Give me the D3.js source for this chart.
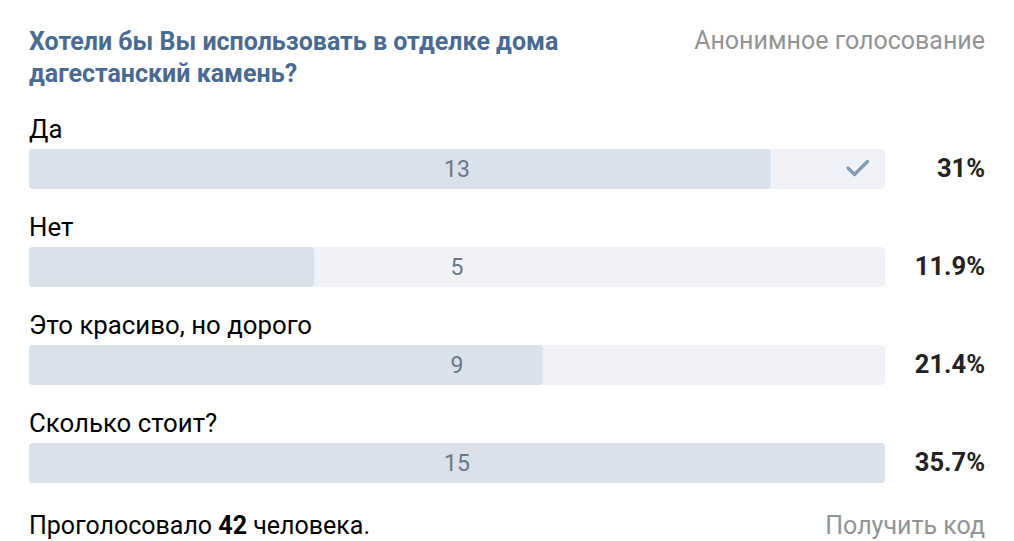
<!DOCTYPE html>
<html><head><meta charset="utf-8">
<script src="https://cdn.jsdelivr.net/npm/d3@7"></script>
<style>
html,body{margin:0;padding:0;background:#fff;overflow:hidden;}
svg{display:block;font-family:Roboto,"Open Sans",sans-serif;}
</style></head>
<body>
<svg id="chart" width="1014" height="541"></svg>
<script>
const titleLines = ["Хотели бы Вы использовать в отделке дома", "дагестанский камень?"];
const categories = ["Да", "Нет", "Это красиво, но дорого", "Сколько стоит?"];
const votes = [13, 5, 9, 15];
const percents = ["31%", "11.9%", "21.4%", "35.7%"];
const total = 42;
const votedIndex = 0;

const svg = d3.select("#chart");
const left = 29, trackRight = 885, right = 985;

const x = d3.scaleLinear().domain([0, d3.max(votes)]).range([0, trackRight - left]);
const y = d3.scaleBand().domain(categories).range([120, 512]).paddingInner(0).paddingOuter(0);

// title
svg.append("text").attr("x", left).attr("y", 50)
  .attr("font-size", 25).attr("font-weight", 700).attr("fill", "#4a6a91")
  .selectAll("tspan").data(titleLines).join("tspan")
  .attr("x", left).attr("dy", (d, i) => i ? 32 : 0).text(d => d);

svg.append("text").attr("x", right).attr("y", 49).attr("text-anchor", "end")
  .attr("font-size", 25).attr("fill", "#939393").text("Анонимное голосование");

const g = svg.selectAll("g.opt").data(categories).join("g")
  .attr("class", "opt").attr("transform", d => `translate(0,${y(d)})`);

g.append("text").attr("x", left).attr("y", 18)
  .attr("font-size", 25.8).attr("fill", "#000").text(d => d);

g.append("rect").attr("x", left).attr("y", 29).attr("height", 40)
  .attr("width", x.range()[1]).attr("rx", 4).attr("fill", "#f0f2f7");

g.append("rect").attr("x", left).attr("y", 29).attr("height", 40)
  .attr("width", (d, i) => x(votes[i])).attr("rx", 4).attr("fill", "#dae1ea");

g.append("text").attr("x", (left + trackRight) / 2).attr("y", 57).attr("text-anchor", "middle")
  .attr("font-size", 23).attr("fill", "#6a7886").text((d, i) => votes[i]);

g.append("text").attr("x", right).attr("y", 57).attr("text-anchor", "end")
  .attr("font-size", 25.5).attr("font-weight", 700).attr("fill", "#222").text((d, i) => percents[i]);

g.filter((d, i) => i === votedIndex).append("path")
  .attr("d", `M${trackRight - 37},${48} l6.5,6.5 l13,-13`)
  .attr("fill", "none").attr("stroke", "#819ab6").attr("stroke-width", 3.4)
  .attr("stroke-linecap", "round").attr("stroke-linejoin", "round");

// footer
const foot = svg.append("text").attr("x", left).attr("y", 534).attr("font-size", 25).attr("fill", "#000");
foot.append("tspan").text("Проголосовало ");
foot.append("tspan").attr("font-weight", 700).text(total);
foot.append("tspan").text(" человека.");

svg.append("text").attr("x", right).attr("y", 534).attr("text-anchor", "end")
  .attr("font-size", 25).attr("fill", "#939393").text("Получить код");
</script>
</body></html>
